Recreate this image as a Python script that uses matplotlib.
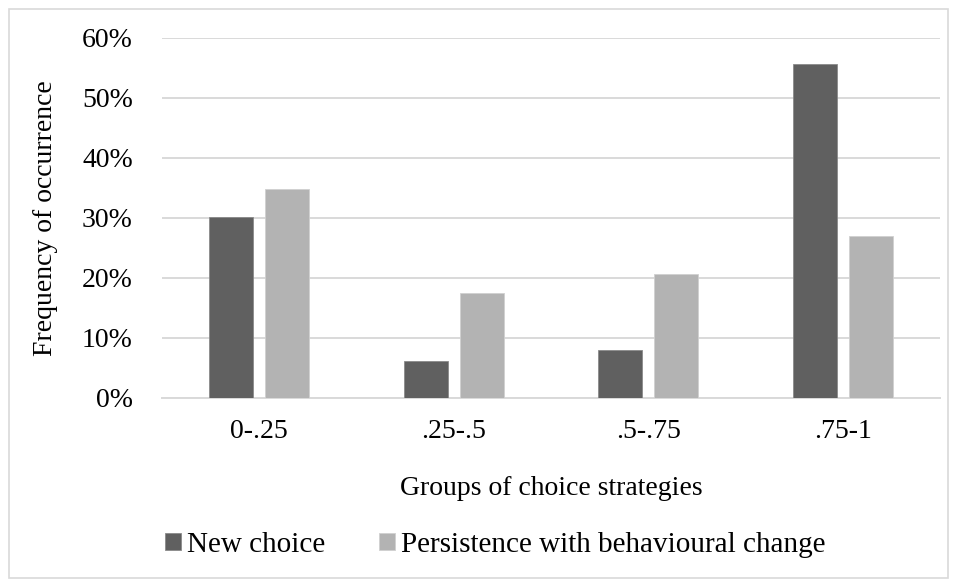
import matplotlib
matplotlib.use("Agg")
import matplotlib.pyplot as plt
import numpy as np
from matplotlib.patches import Rectangle
from matplotlib.ticker import FuncFormatter

categories = ["0-.25", ".25-.5", ".5-.75", ".75-1"]
new_choice = [30.1, 6.2, 7.9, 55.6]
persistence = [34.8, 17.5, 20.7, 26.9]
series_names = ["New choice", "Persistence with behavioural change"]
y_ticks = [0, 10, 20, 30, 40, 50, 60]

plt.rcParams['font.family'] = ['Liberation Serif', 'DejaVu Serif']
FS = 20

W, H = 957, 580
fig = plt.figure(figsize=(W / 100, H / 100), dpi=100)
ax = fig.add_axes([162 / W, 1 - 397.7 / H, (940 - 162) / W, (397.7 - 37.7) / H])

x = np.arange(len(categories))
w = 0.226
off = 0.144
dark = "#606060"
light = "#b3b3b3"
ax.bar(x - off, new_choice, w, color=dark, edgecolor="#8a8a8a", linewidth=0.6,
       label=series_names[0], zorder=3)
ax.bar(x + off, persistence, w, color=light, edgecolor="#d0d0d0", linewidth=0.6,
       label=series_names[1], zorder=3)

ax.set_xlim(-0.5, len(categories) - 0.5)
ax.set_ylim(0, 60)
ax.set_yticks(y_ticks)
ax.yaxis.set_major_formatter(FuncFormatter(lambda v, p: f"{int(v)}%"))
ax.set_xticks(x)
ax.set_xticklabels(categories)
ax.grid(axis='y', color="#d9d9d9", linewidth=1.4, zorder=0)
for s in ["top", "right", "left"]:
    ax.spines[s].set_visible(False)
ax.spines["bottom"].set_color("#d9d9d9")
ax.spines["bottom"].set_linewidth(1.4)
ax.tick_params(axis='both', length=0, labelsize=FS, colors="black")
ax.tick_params(axis='y', pad=21)
ax.tick_params(axis='x', pad=15)

fig.text(551 / W, 1 - 495 / H, "Groups of choice strategies", fontsize=FS,
         ha="center", va="baseline")
fig.text(46 / W, 1 - 217.7 / H, "Frequency of occurrence", fontsize=FS,
         ha="center", va="center", rotation=90)

fig.legend(loc="center left", bbox_to_anchor=(165 / W, 1 - 545 / H), ncol=2, frameon=False,
           fontsize=21, handlelength=0.55, handleheight=0.55, handletextpad=0.2,
           columnspacing=1.85, borderpad=0, borderaxespad=0)

fig.patches.append(Rectangle((9 / W, 2 / H), 1 - 18 / W, 1 - 11 / H, transform=fig.transFigure,
                             fill=False, edgecolor="#d9d9d9", linewidth=1.2))

fig.savefig("out.png", dpi=100)
